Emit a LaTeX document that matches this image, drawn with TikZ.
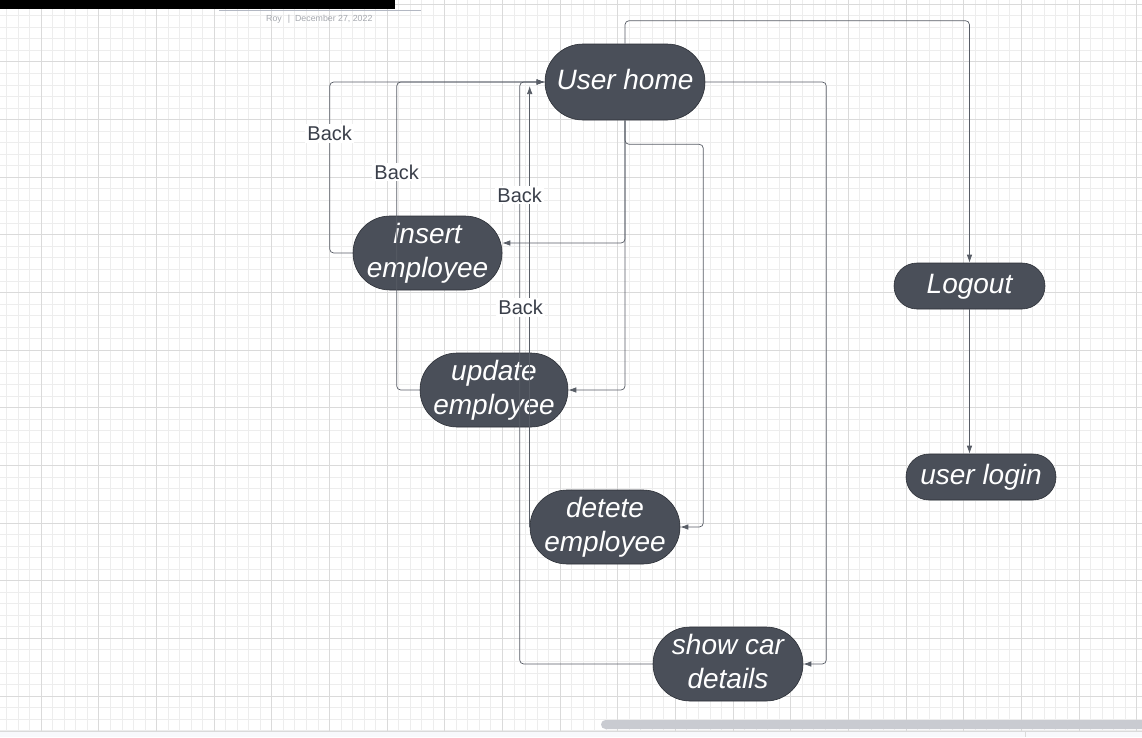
\documentclass[tikz,border=0pt]{standalone}
\usepackage{fontspec}
\setmainfont{Liberation Sans}
\usetikzlibrary{arrows.meta}
\definecolor{nodefill}{HTML}{4A4F59}
\definecolor{nodeline}{HTML}{2B2F36}
\definecolor{linkcol}{HTML}{585D66}
\definecolor{labelcol}{HTML}{3A3F4A}
\definecolor{minorgrid}{HTML}{EDEDED}
\definecolor{majorgrid}{HTML}{DADADA}
\definecolor{scrollcol}{HTML}{C9CBD1}
\definecolor{stripcol}{HTML}{F8F9FC}
\definecolor{headgrey}{HTML}{A6A9AF}
\definecolor{headline}{HTML}{B3B8C3}
\tikzset{
  state/.style={draw=nodeline, line width=0.6pt, fill=nodefill, text=white, inner sep=0pt, align=center, font=\fontsize{28}{34}\selectfont\itshape},
  tallstate/.style={state, minimum height=74pt, rounded corners=37pt},
  flatstate/.style={state, minimum height=46pt, rounded corners=23pt, text height=20pt, text depth=6pt},
  link/.style={draw=linkcol, line width=0.7pt, rounded corners=4pt, -{Latex[length=8pt,width=5.5pt]}},
  backlabel/.style={fill=white, text=labelcol, inner sep=2pt, font=\fontsize{20}{23}\selectfont}
}
\begin{document}
\begin{tikzpicture}[x=1pt, y=-1pt]
\useasboundingbox (0,0) rectangle (1142,737);
\clip (0,0) rectangle (1142,737);
\fill[white] (0,0) rectangle (1142,737);
% grid
\foreach \i in {0,...,98} \draw[minorgrid, line width=1pt] ({6.71+11.53*\i},0) -- ++(0,731);
\foreach \j in {0,...,63} \draw[minorgrid, line width=1pt] (0,{4.3+11.53*\j}) -- ++(1142,0);
\foreach \i in {0,...,19} \draw[majorgrid, line width=1pt] ({41.3+57.65*\i},0) -- ++(0,731);
\foreach \j in {0,...,12} \draw[majorgrid, line width=1pt] (0,{4.3+57.65*\j}) -- ++(1142,0);
% header and bottom bar
\fill[black] (0,0) rectangle (395,9);
\draw[headline, line width=0.8pt] (219,10.5) -- (421,10.5);
\node[anchor=west, text=headgrey, inner sep=0pt, font=\fontsize{8.8}{10}\selectfont] (stamp) at (266,19) {Roy\hspace{6pt}|\hspace{5pt}December 27, 2022};
\fill[stripcol] (0,731) rectangle (1142,737);
\draw[majorgrid, line width=1pt] (0,731) -- (1142,731);
\draw[majorgrid, line width=0.8pt] (1025,731) -- (1025,737);
\fill[scrollcol, rounded corners=4.5pt] (601,720) rectangle (1152,729);
% states
\node[state, minimum width=160pt, minimum height=76pt, rounded corners=38pt, text height=20pt, text depth=6pt] (home) at (625,82) {User home};
\node[tallstate, minimum width=149pt] (insert) at (427.5,253) {insert\\employee};
\node[tallstate, minimum width=148pt] (update) at (494,390) {update\\employee};
\node[tallstate, minimum width=150pt] (delete) at (605,527) {detete\\employee};
\node[tallstate, minimum width=150pt] (show) at (728,664) {show car\\details\vphantom{y}};
\node[flatstate, minimum width=151pt] (logout) at (969.5,286) {Logout};
\node[flatstate, minimum width=150pt] (login) at (981,477) {user login};
% forward links
\draw[link] (home.north) -- ++(0,-23) -| (logout.north);
\draw[link] (logout.south) -- (logout.south |- login.north);
\draw[link] (home.east) -- ++(121,0) |- (show.east);
\draw[link] (home.south) |- ([yshift=10pt]insert.east);
\draw[link] (home.south) |- (update.east);
\draw[link] (home.south) -- ++(0,24) -| ([xshift=23pt]delete.east) -- (delete.east);
% back links
\draw[link] (insert.west) -- ++(-23,0) |- coordinate[pos=0.35] (insertback) (home.west);
\draw[link] (update.west) -- ++(-23,0) |- coordinate[pos=0.354] (updateback) (home.west);
\draw[link] (show.west) -- ++(-133,0) |- coordinate[pos=0.403] (showback) (home.west);
\draw[link] (delete.west) -- coordinate[pos=0.497] (deleteback) ([yshift=-4pt]delete.west |- home.west);
\node[backlabel] at (insertback) {Back};
\node[backlabel] at (updateback) {Back};
\node[backlabel] at (showback) {Back};
\node[backlabel, xshift=-9pt] at (deleteback) {Back};
\end{tikzpicture}
\end{document}
